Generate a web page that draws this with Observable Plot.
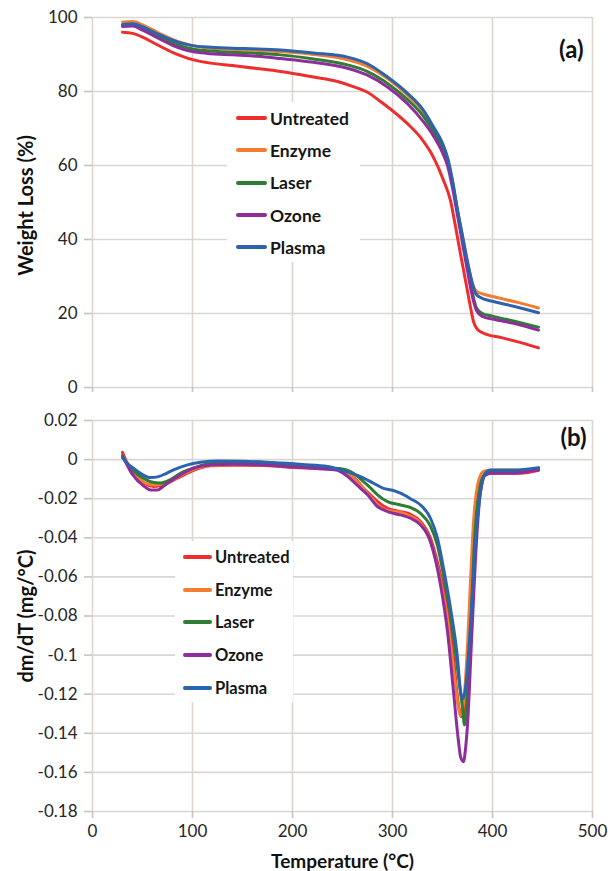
<!DOCTYPE html>
<html>
<head>
<meta charset="utf-8">
<script src="https://cdn.jsdelivr.net/npm/d3@7"></script>
<script src="https://cdn.jsdelivr.net/npm/@observablehq/plot@0.6"></script>
<style>
  html, body { margin: 0; padding: 0; background: #fff; }
  #wrap { position: relative; width: 616px; height: 871px; overflow: hidden; }
  #wrap svg { display: block; }
  .legend { position: absolute; background: #fff; font-family: Lato, "Open Sans", sans-serif; font-weight: bold; color: #161616; }
  .legend .row { display: flex; align-items: center; }
  .legend .sw { height: 4px; border-radius: 2px; }
</style>
</head>
<body>
<div id="wrap"></div>
<script>
// ---- categories / colours ----
const seriesNames = ["Untreated", "Enzyme", "Laser", "Ozone", "Plasma"];
const seriesColors = ["#ee2e2e", "#f47c30", "#2f7d32", "#8e2e9c", "#2b63ae"];

// ---- tick labels ----
const xTicks = [0, 100, 200, 300, 400, 500];
const yTicksA = [0, 20, 40, 60, 80, 100];
const yTicksB = [0.02, 0, -0.02, -0.04, -0.06, -0.08, -0.1, -0.12, -0.14, -0.16, -0.18];

// ---- (a) weight loss (%) : [temperature, value] ----
const tgaUntreated = [[30,96.0],[40,95.7],[50,94.7],[60,93.3],[70,91.9],[80,90.6],[90,89.5],[100,88.6],[115,87.8],[140,87.0],[165,86.2],[188,85.4],[221,83.9],[245,82.7],[260,81.4],[275,79.8],[288,77.3],[300,74.8],[315,71.3],[328,67.6],[341,62.2],[351,56.0],[358,50.5],[363,43.5],[368,36.1],[373,28.9],[378,21.7],[381,17.8],[385,15.7],[390,14.8],[410,13.4],[430,12.0],[446,10.7]];
const tgaEnzyme = [[30,98.8],[40,98.9],[50,98.0],[60,96.7],[70,95.3],[80,94.1],[90,93.1],[100,92.4],[115,91.8],[140,91.4],[165,91.1],[188,90.8],[221,90.0],[255,88.6],[275,86.8],[295,83.5],[315,79.0],[331,74.4],[341,70.0],[350,65.3],[355,61.8],[360,55.5],[365,48.0],[370,40.8],[375,33.8],[380,28.0],[384,26.0],[390,25.3],[400,24.6],[425,23.0],[446,21.5]];
const tgaLaser = [[30,98.0],[40,98.0],[50,97.0],[60,95.8],[70,94.5],[80,93.2],[90,92.2],[100,91.5],[115,91.0],[140,90.6],[165,90.3],[188,89.9],[221,88.8],[255,87.2],[275,85.4],[295,82.2],[315,77.8],[331,73.3],[341,69.2],[350,64.8],[355,61.0],[360,55.0],[365,47.5],[370,40.0],[375,32.5],[380,25.5],[384,21.5],[390,20.0],[400,19.3],[425,17.7],[446,16.3]];
const tgaOzone = [[30,97.6],[40,97.7],[50,96.6],[60,95.2],[70,93.8],[80,92.5],[90,91.5],[100,90.8],[115,90.3],[140,89.9],[165,89.5],[188,88.9],[221,87.9],[255,86.3],[275,84.4],[295,81.2],[315,76.7],[331,71.8],[341,68.0],[350,63.5],[355,60.0],[360,54.0],[365,46.5],[370,39.0],[375,31.5],[380,24.5],[384,20.8],[390,19.2],[400,18.5],[425,17.1],[446,15.5]];
const tgaPlasma = [[30,98.1],[40,98.3],[50,97.5],[60,96.2],[70,95.0],[80,93.9],[90,93.0],[100,92.4],[115,92.0],[140,91.7],[165,91.5],[188,91.2],[221,90.4],[255,89.3],[275,87.5],[295,83.9],[315,79.5],[331,74.9],[341,70.4],[350,66.0],[355,62.2],[360,56.0],[365,48.0],[370,41.0],[375,34.0],[380,28.0],[383,25.5],[388,24.3],[400,23.3],[425,21.7],[446,20.2]];

// ---- (b) dm/dT (mg/°C) : [temperature, value] ----
const dtgUntreated = [[30,0.0037],[33,0.0],[38,-0.005],[45,-0.009],[53,-0.0125],[61,-0.0138],[68,-0.0133],[75,-0.012],[88,-0.0087],[101,-0.0055],[118,-0.0031],[141,-0.0029],[170,-0.0030],[200,-0.0040],[230,-0.0045],[245,-0.0050],[252,-0.0060],[258,-0.0078],[265,-0.011],[271,-0.0147],[278,-0.018],[285,-0.0215],[295,-0.0249],[308,-0.0266],[318,-0.028],[328,-0.0317],[338,-0.0403],[348,-0.059],[355,-0.076],[361,-0.1016],[366,-0.1255],[369,-0.1315],[371,-0.129],[375,-0.110],[378,-0.076],[381,-0.042],[386,-0.0164],[391,-0.0087],[398,-0.007],[428,-0.007],[446,-0.0055]];
const dtgEnzyme = [[30,0.002],[33,-0.001],[38,-0.0055],[45,-0.009],[53,-0.012],[62,-0.013],[70,-0.0125],[78,-0.0112],[88,-0.0082],[101,-0.005],[118,-0.003],[141,-0.0027],[170,-0.0028],[200,-0.0038],[230,-0.0045],[245,-0.005],[252,-0.0062],[258,-0.008],[265,-0.0115],[271,-0.015],[278,-0.019],[285,-0.023],[295,-0.026],[308,-0.027],[318,-0.029],[328,-0.0325],[338,-0.042],[348,-0.062],[355,-0.082],[361,-0.107],[366,-0.127],[368,-0.131],[371,-0.125],[375,-0.095],[378,-0.062],[381,-0.032],[386,-0.011],[391,-0.006],[398,-0.0055],[428,-0.0055],[446,-0.0045]];
const dtgLaser = [[30,0.002],[33,-0.001],[38,-0.004],[45,-0.0075],[52,-0.0098],[58,-0.0113],[68,-0.012],[78,-0.0102],[88,-0.007],[101,-0.0044],[118,-0.002],[141,-0.0018],[170,-0.0022],[200,-0.0033],[230,-0.004],[245,-0.0045],[252,-0.005],[258,-0.0061],[265,-0.0085],[271,-0.0113],[278,-0.0145],[285,-0.018],[295,-0.0215],[308,-0.0232],[318,-0.0245],[328,-0.0275],[338,-0.034],[345,-0.044],[351,-0.059],[358,-0.0794],[365,-0.1067],[370,-0.127],[372,-0.1357],[374,-0.127],[378,-0.0897],[382,-0.042],[388,-0.013],[393,-0.007],[400,-0.006],[430,-0.0058],[446,-0.0048]];
const dtgOzone = [[30,0.0015],[34,-0.002],[38,-0.0061],[43,-0.0095],[48,-0.0121],[53,-0.0142],[58,-0.0155],[65,-0.0155],[70,-0.014],[75,-0.0121],[88,-0.0078],[101,-0.0044],[118,-0.0027],[141,-0.0024],[170,-0.0027],[200,-0.0038],[230,-0.0048],[242,-0.0052],[248,-0.0061],[255,-0.0085],[261,-0.0113],[268,-0.0147],[275,-0.018],[285,-0.024],[295,-0.0266],[308,-0.0283],[318,-0.03],[328,-0.0334],[338,-0.042],[348,-0.064],[355,-0.088],[361,-0.1187],[366,-0.1442],[368,-0.1519],[371,-0.1545],[373,-0.148],[375,-0.1357],[379,-0.093],[383,-0.0505],[388,-0.0164],[393,-0.0078],[400,-0.007],[421,-0.007],[435,-0.006],[446,-0.0053]];
const dtgPlasma = [[30,0.001],[35,-0.002],[41,-0.0044],[48,-0.007],[58,-0.0092],[66,-0.0087],[74,-0.007],[81,-0.0053],[95,-0.0027],[108,-0.0014],[125,-0.0007],[150,-0.0008],[180,-0.0015],[210,-0.0025],[235,-0.0035],[248,-0.0053],[258,-0.0068],[268,-0.0087],[281,-0.0121],[291,-0.0147],[300,-0.0157],[308,-0.0172],[318,-0.020],[328,-0.0232],[338,-0.03],[345,-0.0403],[351,-0.0556],[358,-0.076],[365,-0.1016],[368,-0.1185],[370,-0.1225],[373,-0.117],[378,-0.0846],[383,-0.042],[388,-0.0164],[393,-0.007],[398,-0.0053],[421,-0.0053],[446,-0.0041]];

const tgaSets = [tgaUntreated, tgaEnzyme, tgaLaser, tgaOzone, tgaPlasma];
const dtgSets = [dtgUntreated, dtgEnzyme, dtgLaser, dtgOzone, dtgPlasma];

const toRows = (pairs, name) => pairs.map(([T, v]) => ({T, v, name}));

const gridColor = "#dbd6d2";
const tickColor = "#c9c3bf";
const font = "Lato, 'Open Sans', sans-serif";
const fmtB = d => { const r = Math.round(d * 100) / 100; return r === 0 ? "0" : String(r); };

const lineMarks = sets => sets.map((s, i) =>
  Plot.line(toRows(s, seriesNames[i]), {x: "T", y: "v", stroke: seriesColors[i], strokeWidth: 3, curve: "monotone-x"}));

const plotA = Plot.plot({
  width: 616, height: 400,
  marginLeft: 92, marginRight: 24, marginTop: 17, marginBottom: 13,
  x: {domain: [0, 500]},
  y: {domain: [0, 100]},
  style: {fontFamily: font, fontSize: "17px", color: "#262626", background: "#fff", overflow: "visible"},
  marks: [
    Plot.gridX(xTicks, {stroke: gridColor, strokeOpacity: 1, strokeWidth: 1.6}),
    Plot.gridY(yTicksA, {stroke: gridColor, strokeOpacity: 1, strokeWidth: 1.6}),
    Plot.axisY(yTicksA, {tickSize: 8, tickPadding: 7, stroke: tickColor, strokeWidth: 1.6, fill: "#262626", label: null}),
    Plot.axisX(xTicks, {tickSize: 5, stroke: tickColor, strokeWidth: 1.6, tickFormat: () => "", label: null}),
    ...lineMarks(tgaSets),
    Plot.text(["(a)"], {text: d => d, frameAnchor: "top-right", dx: -9, dy: 33, lineAnchor: "middle", fontWeight: "bold", fontSize: 24, fill: "#111"}),
    Plot.text(["Weight Loss (%)"], {text: d => d, frameAnchor: "left", rotate: -90, dx: -66, dy: 3, textAnchor: "middle", lineAnchor: "middle", fontWeight: "bold", fontSize: 20, fill: "#111"})
  ]
});

const plotB = Plot.plot({
  width: 616, height: 471,
  marginLeft: 92, marginRight: 24, marginTop: 20, marginBottom: 60,
  x: {domain: [0, 500]},
  y: {domain: [-0.18, 0.02]},
  style: {fontFamily: font, fontSize: "17px", color: "#262626", background: "#fff", overflow: "visible"},
  marks: [
    Plot.gridX(xTicks, {stroke: gridColor, strokeOpacity: 1, strokeWidth: 1.6}),
    Plot.gridY(yTicksB, {stroke: gridColor, strokeOpacity: 1, strokeWidth: 1.6}),
    Plot.axisY(yTicksB, {tickSize: 8, tickPadding: 7, stroke: tickColor, strokeWidth: 1.6, fill: "#262626", tickFormat: fmtB, label: null}),
    Plot.axisX(xTicks, {tickSize: 7, tickPadding: 6, stroke: tickColor, strokeWidth: 1.6, fill: "#262626", label: null}),
    ...lineMarks(dtgSets),
    Plot.text(["(b)"], {text: d => d, frameAnchor: "top-right", dx: -6, dy: 18, lineAnchor: "middle", fontWeight: "bold", fontSize: 24, fill: "#111"}),
    Plot.text(["dm/dT (mg/°C)"], {text: d => d, frameAnchor: "left", rotate: -90, dx: -66, textAnchor: "middle", lineAnchor: "middle", fontWeight: "bold", fontSize: 20, fill: "#111"}),
    Plot.text(["Temperature (°C)"], {text: d => d, frameAnchor: "bottom", dy: 50, textAnchor: "middle", lineAnchor: "middle", fontWeight: "bold", fontSize: 19, fill: "#111"})
  ]
});

const wrap = document.getElementById("wrap");
wrap.appendChild(plotA);
wrap.appendChild(plotB);

function addLegend(cfg) {
  const box = document.createElement("div");
  box.className = "legend";
  Object.assign(box.style, {left: cfg.left + "px", top: cfg.top + "px", width: cfg.width + "px", height: cfg.height + "px", fontSize: cfg.fontSize + "px"});
  seriesNames.forEach((name, i) => {
    const row = document.createElement("div");
    row.className = "row";
    row.style.height = cfg.rowH + "px";
    const sw = document.createElement("span");
    sw.className = "sw";
    Object.assign(sw.style, {background: seriesColors[i], width: cfg.swW + "px", marginLeft: cfg.swL + "px", marginRight: "3px"});
    const tx = document.createElement("span");
    tx.textContent = name;
    row.appendChild(sw);
    row.appendChild(tx);
    box.appendChild(row);
  });
  wrap.appendChild(box);
}
addLegend({left: 227, top: 102, width: 133, height: 160, rowH: 32.3, swW: 31, swL: 9, fontSize: 17.5});
addLegend({left: 175, top: 541, width: 118, height: 161, rowH: 32.6, swW: 29, swL: 8, fontSize: 16.5});
</script>
</body>
</html>
